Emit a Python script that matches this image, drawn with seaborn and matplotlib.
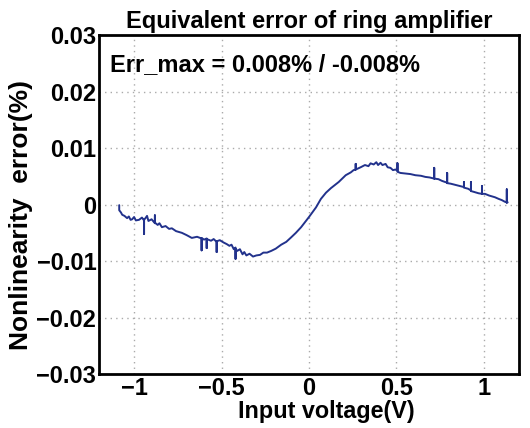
import pandas as pd
import seaborn as sns
import matplotlib.pyplot as plt

# Đường cong sai số; gai nhiễu ghi thành 3 điểm cùng x
voltage = [-1.085, -1.085, -1.075, -1.068, -1.055, -1.040, -1.030, -1.020,
           -1.011, -1.000, -0.990, -0.972, -0.955, -0.943, -0.943, -0.943,
           -0.935, -0.926, -0.918, -0.900, -0.881, -0.881, -0.881, -0.865,
           -0.855, -0.841, -0.820, -0.800, -0.784, -0.760, -0.727, -0.700,
           -0.670, -0.640, -0.614, -0.614, -0.614, -0.600, -0.585, -0.585,
           -0.585, -0.560, -0.545, -0.528, -0.528, -0.528, -0.510, -0.489,
           -0.470, -0.455, -0.443, -0.430, -0.420, -0.420, -0.420, -0.410,
           -0.395, -0.380, -0.370, -0.358, -0.340, -0.320, -0.301, -0.280,
           -0.261, -0.240, -0.216, -0.190, -0.159, -0.130, -0.102, -0.075,
           -0.045, -0.020, 0.000, 0.040, 0.068, 0.097, 0.125, 0.170,
           0.210, 0.239, 0.255, 0.267, 0.267, 0.267, 0.295, 0.320,
           0.340, 0.352, 0.370, 0.385, 0.395, 0.409, 0.420, 0.438,
           0.450, 0.466, 0.480, 0.494, 0.506, 0.506, 0.506, 0.523,
           0.550, 0.580, 0.608, 0.640, 0.665, 0.690, 0.716, 0.716,
           0.716, 0.740, 0.760, 0.778, 0.790, 0.790, 0.790, 0.810,
           0.835, 0.860, 0.886, 0.886, 0.886, 0.910, 0.926, 0.926,
           0.926, 0.949, 0.970, 0.989, 0.989, 0.989, 1.006, 1.030,
           1.063, 1.085, 1.102, 1.120, 1.131, 1.131, 1.131, 1.136]
error = [-0.0001, -0.0010, -0.0014, -0.0018, -0.0020, -0.0024, -0.0021, -0.0027,
         -0.0026, -0.0022, -0.0028, -0.0027, -0.0023, -0.0028, -0.0052, -0.0027,
         -0.0024, -0.0020, -0.0029, -0.0026, -0.0033, -0.0019, -0.0032, -0.0036,
         -0.0033, -0.0040, -0.0038, -0.0043, -0.0042, -0.0047, -0.0050, -0.0054,
         -0.0059, -0.0057, -0.0060, -0.0081, -0.0059, -0.0062, -0.0060, -0.0077,
         -0.0061, -0.0064, -0.0061, -0.0066, -0.0084, -0.0065, -0.0063, -0.0067,
         -0.0070, -0.0073, -0.0071, -0.0079, -0.0076, -0.0096, -0.0078, -0.0082,
         -0.0079, -0.0088, -0.0084, -0.0090, -0.0087, -0.0092, -0.0090, -0.0089,
         -0.0085, -0.0085, -0.0082, -0.0078, -0.0071, -0.0066, -0.0058, -0.0050,
         -0.0040, -0.0030, -0.0022, -0.0005, 0.0010, 0.0021, 0.0029, 0.0040,
         0.0052, 0.0057, 0.0061, 0.0062, 0.0072, 0.0062, 0.0066, 0.0070,
         0.0068, 0.0073, 0.0071, 0.0075, 0.0070, 0.0074, 0.0070, 0.0072,
         0.0066, 0.0065, 0.0061, 0.0062, 0.0060, 0.0073, 0.0058, 0.0056,
         0.0055, 0.0054, 0.0052, 0.0051, 0.0049, 0.0048, 0.0046, 0.0065,
         0.0046, 0.0045, 0.0042, 0.0040, 0.0039, 0.0056, 0.0038, 0.0037,
         0.0035, 0.0033, 0.0031, 0.0040, 0.0030, 0.0028, 0.0025, 0.0040,
         0.0024, 0.0022, 0.0020, 0.0019, 0.0033, 0.0019, 0.0019, 0.0016,
         0.0013, 0.0010, 0.0008, 0.0005, 0.0004, 0.0027, 0.0003, 0.0004]

x_ticks = [-1, -0.5, 0, 0.5, 1]
x_tick_labels = ["\u22121", "\u22120.5", "0", "0.5", "1"]
y_ticks = [-0.03, -0.02, -0.01, 0, 0.01, 0.02, 0.03]
y_tick_labels = ["\u22120.03", "\u22120.02", "\u22120.01", "0", "0.01", "0.02", "0.03"]

data = pd.DataFrame({"voltage": voltage, "error": error})

sns.set_style("white")
plt.rcParams['font.family'] = ['Liberation Sans', 'DejaVu Sans']
plt.rcParams['font.weight'] = 'bold'
plt.rcParams['text.color'] = 'black'
plt.rcParams['axes.labelcolor'] = 'black'
plt.rcParams['xtick.color'] = 'black'
plt.rcParams['ytick.color'] = 'black'

fig = plt.figure(figsize=(5.3, 4.28), dpi=100)
ax = fig.add_axes([0.187, 0.126, 0.792, 0.792])

sns.lineplot(data=data, x="voltage", y="error", sort=False, estimator=None,
             color="#22328c", linewidth=1.4, ax=ax)

ax.set_xlim(-1.2, 1.2)
ax.set_ylim(-0.03, 0.03)
ax.set_xticks(x_ticks)
ax.set_xticklabels(x_tick_labels)
ax.set_yticks(y_ticks)
ax.set_yticklabels(y_tick_labels)
ax.tick_params(direction="in", length=3, width=1.5, labelsize=17, pad=2,
               colors="black")
for lbl in ax.get_xticklabels() + ax.get_yticklabels():
    lbl.set_fontweight("bold")

# Lưới chấm kiểu MATLAB
ax.grid(True, linestyle=(0, (1, 3)), color="#aaaaaa", linewidth=1.0)
for sp in ax.spines.values():
    sp.set_linewidth(2)
    sp.set_color("black")

ax.set_title("Equivalent error of ring amplifier", fontsize=17,
             fontweight="bold", pad=5, color="black")
ax.set_xlabel("Input voltage(V)", fontsize=16.8, fontweight="bold")
ax.xaxis.set_label_coords(0.542, -0.076)
ax.set_ylabel("Nonlinearity  error(%)", fontsize=19, fontweight="bold")
ax.yaxis.set_label_coords(-0.157, 0.469)

ax.text(-1.14, 0.0247, "Err_max = 0.008% / -0.008%", fontsize=17,
        fontweight="bold", va="center", ha="left", color="black")

fig.savefig("out.png", dpi=100)
